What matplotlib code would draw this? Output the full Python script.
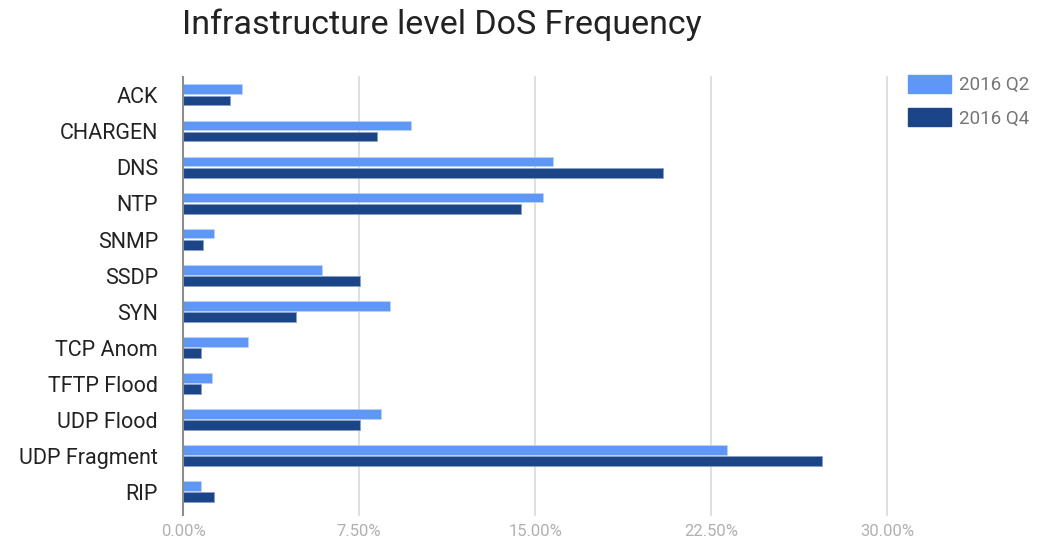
import matplotlib
matplotlib.use("Agg")
import matplotlib.pyplot as plt
import matplotlib.patches as mpatches
import numpy as np

plt.rcParams["font.family"] = ["Roboto", "DejaVu Sans"]

CATEGORIES = ["ACK", "CHARGEN", "DNS", "NTP", "SNMP", "SSDP", "SYN",
              "TCP Anom", "TFTP Flood", "UDP Flood", "UDP Fragment", "RIP"]
Q2_2016 = [2.53, 9.71, 15.76, 15.35, 1.33, 5.93, 8.83, 2.77, 1.24, 8.43, 23.16, 0.76]
Q4_2016 = [1.98, 8.26, 20.45, 14.41, 0.85, 7.54, 4.80, 0.76, 0.76, 7.54, 27.24, 1.33]
SERIES = ["2016 Q2", "2016 Q4"]
X_TICKS = [0, 7.5, 15, 22.5, 30]

COLORS = {"2016 Q2": "#5e97f6", "2016 Q4": "#1c4587"}

fig = plt.figure(figsize=(10.4, 5.44), dpi=100)
ax = fig.add_axes([0.176, 0.0625, 0.677, 0.7955])

y = np.arange(len(CATEGORIES))
h = 0.27
ax.barh(y - 0.165, Q2_2016, height=h, color=COLORS["2016 Q2"],
        edgecolor="#bcd3fb", linewidth=0.6, zorder=3)
ax.barh(y + 0.145, Q4_2016, height=h, color=COLORS["2016 Q4"],
        edgecolor="#8aa0c4", linewidth=0.6, zorder=3)

ax.set_ylim(len(CATEGORIES) - 0.5, -0.5)
ax.set_xlim(0, 30)
ax.set_yticks(y)
ax.set_yticklabels(CATEGORIES, fontsize=15.5, color="#222222")
ax.set_xticks(X_TICKS)
ax.set_xticklabels([f"{t:.2f}%" for t in X_TICKS], fontsize=12, color="#b0b0b0")
ax.tick_params(axis="y", length=0, pad=18)
ax.tick_params(axis="x", length=0, pad=10)

for t in X_TICKS[1:]:
    ax.axvline(t, color="#d9d9d9", linewidth=1.2, zorder=1, ymin=-0.012, clip_on=False)
ax.axvline(0, color="#8c8c8c", linewidth=1.5, zorder=4, ymin=-0.012, clip_on=False)

for side in ["top", "right", "bottom", "left"]:
    ax.spines[side].set_visible(False)

fig.text(0.175, 0.955, "Infrastructure level DoS Frequency", fontsize=24.5,
         color="#222222", ha="left", va="center")

handles = [mpatches.Patch(color=COLORS[s], label=s) for s in SERIES]
leg = fig.legend(handles=handles, loc="upper left", bbox_to_anchor=(0.873, 0.862),
                 frameon=False, fontsize=13.5, handlelength=2.3, handleheight=1.07,
                 labelspacing=0.75, handletextpad=0.4, borderaxespad=0, borderpad=0)
for txt in leg.get_texts():
    txt.set_color("#757575")

fig.savefig("out.png", dpi=100)
